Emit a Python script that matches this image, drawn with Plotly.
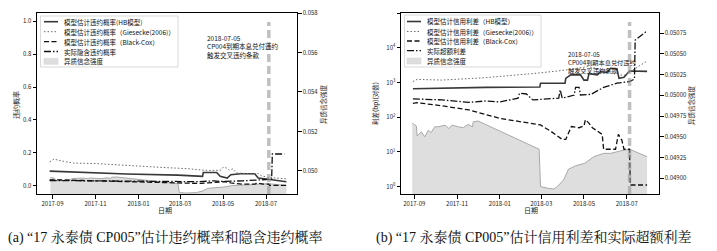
import plotly.graph_objects as go

W, H = 717, 251
OFF = 8  # page body margin offset of the rendered figure


def fx(p):
    return (p - OFF) / W


def fy(p):
    return 1 - (p - OFF) / H


# ---------------- data ----------------
# heterogeneous belief strength (right axes of both panels)
het_dates = ["2017-08-29", "2017-09-04", "2017-09-05", "2017-09-11", "2017-09-16", "2017-09-21",
             "2017-09-25", "2017-09-30", "2017-10-05", "2017-10-15", "2017-10-20", "2017-10-25",
             "2017-11-03", "2017-11-10", "2017-11-17", "2017-11-23", "2017-11-24", "2017-12-01",
             "2018-02-26", "2018-02-28", "2018-03-10", "2018-03-19", "2018-03-24", "2018-04-02",
             "2018-04-09", "2018-04-19", "2018-05-02", "2018-05-15", "2018-05-29", "2018-06-08",
             "2018-06-22", "2018-07-05", "2018-07-30"]
het_vals = [0.049664, 0.04963, 0.04951, 0.04956, 0.04950, 0.04958,
            0.04955, 0.04962, 0.04962, 0.04964, 0.04960, 0.04964,
            0.04962, 0.04961, 0.04965, 0.04962, 0.04968, 0.04969,
            0.04935, 0.04890, 0.04888, 0.04887, 0.04890, 0.04898,
            0.04911, 0.04915, 0.04918, 0.04926, 0.04930, 0.04930,
            0.04933, 0.04935, 0.04926]

# panel (a): default probabilities
pd_hb_dates = ["2017-08-28", "2017-10-15", "2017-12-15", "2018-02-26", "2018-03-29", "2018-04-02",
               "2018-04-03", "2018-04-22", "2018-04-27", "2018-05-07", "2018-05-12", "2018-05-26",
               "2018-06-15", "2018-06-20", "2018-07-04", "2018-07-30"]
pd_hb = [0.089, 0.080, 0.072, 0.065, 0.057, 0.057,
         0.081, 0.081, 0.057, 0.047, 0.067, 0.073,
         0.073, 0.047, 0.040, 0.024]

pd_gs_dates = ["2017-08-28", "2017-09-03", "2017-09-15", "2017-10-01", "2017-11-01", "2017-12-15",
               "2018-02-01", "2018-03-15", "2018-04-01", "2018-04-15", "2018-04-28", "2018-05-01",
               "2018-05-06", "2018-05-10", "2018-05-15", "2018-05-20", "2018-06-10", "2018-06-20",
               "2018-06-25", "2018-07-05", "2018-07-30"]
pd_gs = [0.145, 0.162, 0.150, 0.138, 0.135, 0.122,
         0.112, 0.103, 0.095, 0.093, 0.095, 0.112,
         0.108, 0.095, 0.103, 0.078, 0.072, 0.075,
         0.060, 0.050, 0.042]

pd_bc_dates = ["2017-08-28", "2017-09-05", "2017-10-15", "2017-12-01", "2018-01-15", "2018-03-01",
               "2018-03-31", "2018-04-10", "2018-04-25", "2018-05-03", "2018-05-12", "2018-05-29",
               "2018-06-15", "2018-06-19", "2018-06-27", "2018-07-05", "2018-07-06", "2018-07-30"]
pd_bc = [0.035, 0.036, 0.032, 0.028, 0.024, 0.019,
         0.014, 0.018, 0.020, 0.025, 0.017, 0.010,
         0.010, 0.016, 0.010, 0.010, 0.003, 0.003]

pd_act_dates = ["2017-08-28", "2017-10-15", "2017-12-15", "2018-01-25", "2018-02-15", "2018-03-28",
                "2018-04-19", "2018-04-26", "2018-05-29", "2018-06-20", "2018-07-05", "2018-07-09",
                "2018-07-10", "2018-07-27"]
pd_act = [0.032, 0.030, 0.028, 0.030, 0.026, 0.025,
          0.030, 0.026, 0.030, 0.033, 0.036, 0.040,
          0.193, 0.193]

# panel (b): credit spreads (bp, log scale)
cs_hb_dates = ["2017-08-30", "2017-12-12", "2018-02-27", "2018-02-28", "2018-04-04", "2018-04-05",
               "2018-04-12", "2018-04-26", "2018-05-01", "2018-05-06", "2018-05-08", "2018-05-20",
               "2018-05-25", "2018-06-03", "2018-06-08", "2018-06-17", "2018-06-20", "2018-06-27",
               "2018-07-05", "2018-07-30"]
cs_hb = [660, 725, 740, 955, 955, 1320,
         1660, 1660, 1175, 1175, 1780, 1660,
         2040, 1950, 2570, 2500, 1320, 1410,
         2140, 2090]

cs_gs_dates = ["2017-08-30", "2017-09-05", "2017-10-10", "2017-12-12", "2018-02-28", "2018-04-05",
               "2018-05-06", "2018-05-25", "2018-06-08", "2018-06-27", "2018-07-05", "2018-07-30"]
cs_gs = [1070, 1230, 1175, 1380, 1900, 2290,
         2880, 2400, 1860, 1585, 2000, 4170]

cs_bc_dates = ["2017-08-30", "2017-09-05", "2017-10-10", "2017-11-18", "2018-01-01", "2018-02-28",
               "2018-03-15", "2018-03-31", "2018-04-05", "2018-04-10", "2018-04-13", "2018-04-24",
               "2018-05-01", "2018-05-03", "2018-05-08", "2018-05-13", "2018-05-20", "2018-05-27",
               "2018-05-29", "2018-06-15", "2018-06-19", "2018-06-24", "2018-06-27", "2018-07-05",
               "2018-07-06", "2018-07-30"]
cs_bc = [251, 263, 214, 162, 93, 60,
         39, 23, 23, 39, 54, 50,
         56, 85, 68, 50, 39, 32,
         12, 12, 32, 22, 12, 12,
         1.12, 1.12]

cs_act_dates = ["2017-08-30", "2017-10-10", "2017-11-18", "2017-12-12", "2018-01-01", "2018-01-27",
                "2018-01-29", "2018-02-08", "2018-02-12", "2018-02-17", "2018-03-26", "2018-03-28",
                "2018-03-31", "2018-04-17", "2018-04-19", "2018-04-24", "2018-04-26", "2018-05-11",
                "2018-05-29", "2018-06-17", "2018-07-05", "2018-07-12", "2018-07-13", "2018-07-30"]
cs_act = [339, 316, 269, 295, 275, 355,
          490, 468, 389, 316, 355, 617,
          355, 437, 724, 724, 437, 457,
          724, 955, 1070, 1260, 16600, 30900]

event_date = "2018-07-05"
event_text = "2018-07-05<br>CP004到期本息兑付违约<br>触发交叉违约条款"

legend_a = ["模型估计违约概率(HB模型)", "模型估计违约概率（Giesecke(2006)）",
            "模型估计违约概率（Black-Cox）", "实际隐含违约概率", "异质信念强度"]
legend_b = ["模型估计信用利差（HB模型）", "模型估计信用利差（Giesecke(2006)）",
            "模型估计信用利差（Black-Cox）", "实际超额利差", "异质信念强度"]

left_ticks = [0.0, 0.2, 0.4, 0.6, 0.8, 1.0]
het_ticks_a = [0.050, 0.052, 0.054, 0.056, 0.058]
het_ticks_b = [0.04900, 0.04925, 0.04950, 0.04975, 0.05000, 0.05025, 0.05050, 0.05075, 0.05100]
log_ticks = [1, 10, 100, 1000, 10000, 100000]

# ---------------- styles ----------------
FONT = "Noto Sans CJK SC"
SHADE_FILL = "#dedede"
SHADE_LINE = "#a9a9a9"
styles = [
    dict(color="#383838", width=1.6, dash="solid"),
    dict(color="#6a6a6a", width=1.0, dash="1.5px,2px"),
    dict(color="#111111", width=1.3, dash="5px,2.5px"),
    dict(color="#111111", width=1.3, dash="7px,2px,1.5px,2px"),
]

fig = go.Figure()

# panel (a)
fig.add_trace(go.Scatter(x=het_dates, y=het_vals, xaxis="x", yaxis="y", mode="lines",
                         fill="tozeroy", fillcolor=SHADE_FILL,
                         line=dict(color=SHADE_LINE, width=1), showlegend=False))
for (dx, dy), st in zip([(pd_hb_dates, pd_hb), (pd_gs_dates, pd_gs), (pd_bc_dates, pd_bc),
                         (pd_act_dates, pd_act)], styles):
    fig.add_trace(go.Scatter(x=dx, y=dy, xaxis="x", yaxis="y2", mode="lines",
                             line=st, showlegend=False))

# panel (b)
fig.add_trace(go.Scatter(x=het_dates, y=het_vals, xaxis="x2", yaxis="y3", mode="lines",
                         fill="tozeroy", fillcolor=SHADE_FILL,
                         line=dict(color=SHADE_LINE, width=1), showlegend=False))
for (dx, dy), st in zip([(cs_hb_dates, cs_hb), (cs_gs_dates, cs_gs), (cs_bc_dates, cs_bc),
                         (cs_act_dates, cs_act)], styles):
    fig.add_trace(go.Scatter(x=dx, y=dy, xaxis="x2", yaxis="y4", mode="lines",
                             line=st, showlegend=False))

ydom = [fy(194), fy(13)]
common = dict(showgrid=False, zeroline=False, showline=True, linecolor="black", linewidth=1,
              ticks="outside", ticklen=3.5, tickwidth=1, tickcolor="black", automargin=False,
              tickfont=dict(family=FONT, size=6, color="#222"))
xcommon = dict(common, type="date", tickformat="%Y-%m", dtick="M2", tick0="2017-09-01",
               mirror=True)

fig.update_layout(
    template="none",
    width=W, height=H, margin=dict(l=0, r=0, t=0, b=0, pad=0, autoexpand=False),
    paper_bgcolor="white", plot_bgcolor="white", showlegend=False,
    font=dict(family=FONT, size=7, color="#222"),
    xaxis=dict(xcommon, domain=[fx(37), fx(297)], anchor="y",
               range=["2017-08-10", "2018-08-14"]),
    yaxis=dict(common, domain=ydom, anchor="x", side="right", range=[0.04883, 0.058],
               tickvals=het_ticks_a, ticktext=["%.3f" % v for v in het_ticks_a]),
    yaxis2=dict(common, overlaying="y", anchor="x", side="left", range=[-0.05, 1.05],
                tickvals=left_ticks, ticktext=["%.1f" % v for v in left_ticks]),
    xaxis2=dict(xcommon, domain=[fx(401), fx(659)], anchor="y3",
                range=["2017-08-13", "2018-08-16"]),
    yaxis3=dict(common, domain=ydom, anchor="x2", side="right", range=[0.04881, 0.050993],
                tickvals=het_ticks_b, ticktext=["%.5f" % v for v in het_ticks_b]),
    yaxis4=dict(common, overlaying="y3", anchor="x2", side="left", type="log",
                range=[-0.21, 5.002], tickvals=log_ticks,
                ticktext=["10<sup>%d</sup>" % i for i in range(len(log_ticks))]),
)

shapes = []
annotations = []

# event vertical lines
for xr, yr in [("x", "y domain"), ("x2", "y3 domain")]:
    shapes.append(dict(type="line", xref=xr, yref=yr, x0=event_date, x1=event_date, y0=0, y1=0.95,
                       line=dict(color="rgba(150,150,150,0.6)", width=3.5, dash="8px,4px"),
                       layer="above"))

annotations.append(dict(xref="x", yref="paper", x="2018-04-05", y=fy(31), text=event_text,
                        showarrow=False, xanchor="left", yanchor="top", align="left",
                        font=dict(family=FONT, size=6.5, color="#111")))
annotations.append(dict(xref="x2", yref="paper", x="2018-04-06", y=fy(48), text=event_text,
                        showarrow=False, xanchor="left", yanchor="top", align="left",
                        font=dict(family=FONT, size=6.2, color="#111")))


# manual legends
def add_legend(x0, x1, y0, y1, rows, sx0, sx1, tx, labels):
    shapes.append(dict(type="rect", xref="paper", yref="paper", x0=fx(x0), x1=fx(x1),
                       y0=fy(y1), y1=fy(y0), line=dict(color="#cfcfcf", width=0.8),
                       fillcolor="rgba(255,255,255,0.85)", layer="above"))
    for i, (r, lab) in enumerate(zip(rows, labels)):
        if i < 4:
            st = styles[i]
            shapes.append(dict(type="line", xref="paper", yref="paper", x0=fx(sx0), x1=fx(sx1),
                               y0=fy(r), y1=fy(r),
                               line=dict(color=st["color"], width=st["width"], dash=st["dash"]),
                               layer="above"))
        else:
            shapes.append(dict(type="rect", xref="paper", yref="paper", x0=fx(sx0), x1=fx(sx1),
                               y0=fy(r + 3), y1=fy(r - 3), fillcolor=SHADE_FILL,
                               line=dict(color="#d0d0d0", width=0.5), layer="above"))
        annotations.append(dict(xref="paper", yref="paper", x=fx(tx), y=fy(r), text=lab,
                                showarrow=False, xanchor="left", yanchor="middle",
                                font=dict(family=FONT, size=6.5, color="#111")))


add_legend(40.5, 178, 16, 67, [21.7, 31.7, 41.7, 51.5, 61.3], 44, 58, 61.5, legend_a)
add_legend(404.5, 541, 15, 67, [21.5, 31.5, 41, 50.7, 61], 407, 421, 424.5, legend_b)


def label(x, y, text, size=7, angle=0, family=FONT, color="#222"):
    return dict(xref="paper", yref="paper", x=fx(x), y=fy(y), text=text, textangle=angle,
                xanchor="center", yanchor="middle", showarrow=False,
                font=dict(family=family, size=size, color=color))


# axis titles
annotations += [
    label(16, 105, "违约概率", 7, -90),
    label(323, 104, "异质信念强度", 6.5, -90),
    label(165, 210, "日期", 7),
    label(375, 103, "利差(bp)(对数)", 6.5, -90),
    label(691, 105, "异质信念强度", 6.5, -90),
    label(531, 210, "日期", 7),
]

# captions
CAP_FONT = "Liberation Serif, Noto Serif CJK SC, Noto Sans CJK SC, serif"
annotations += [
    label(165, 237, "(a) “17 永泰债 CP005”估计违约概率和隐含违约概率", 14, 0, CAP_FONT, "#111"),
    label(533, 237, "(b) “17 永泰债 CP005”估计信用利差和实际超额利差", 14, 0, CAP_FONT, "#111"),
]

fig.update_layout(shapes=shapes, annotations=annotations)
fig.write_html("out.html")
